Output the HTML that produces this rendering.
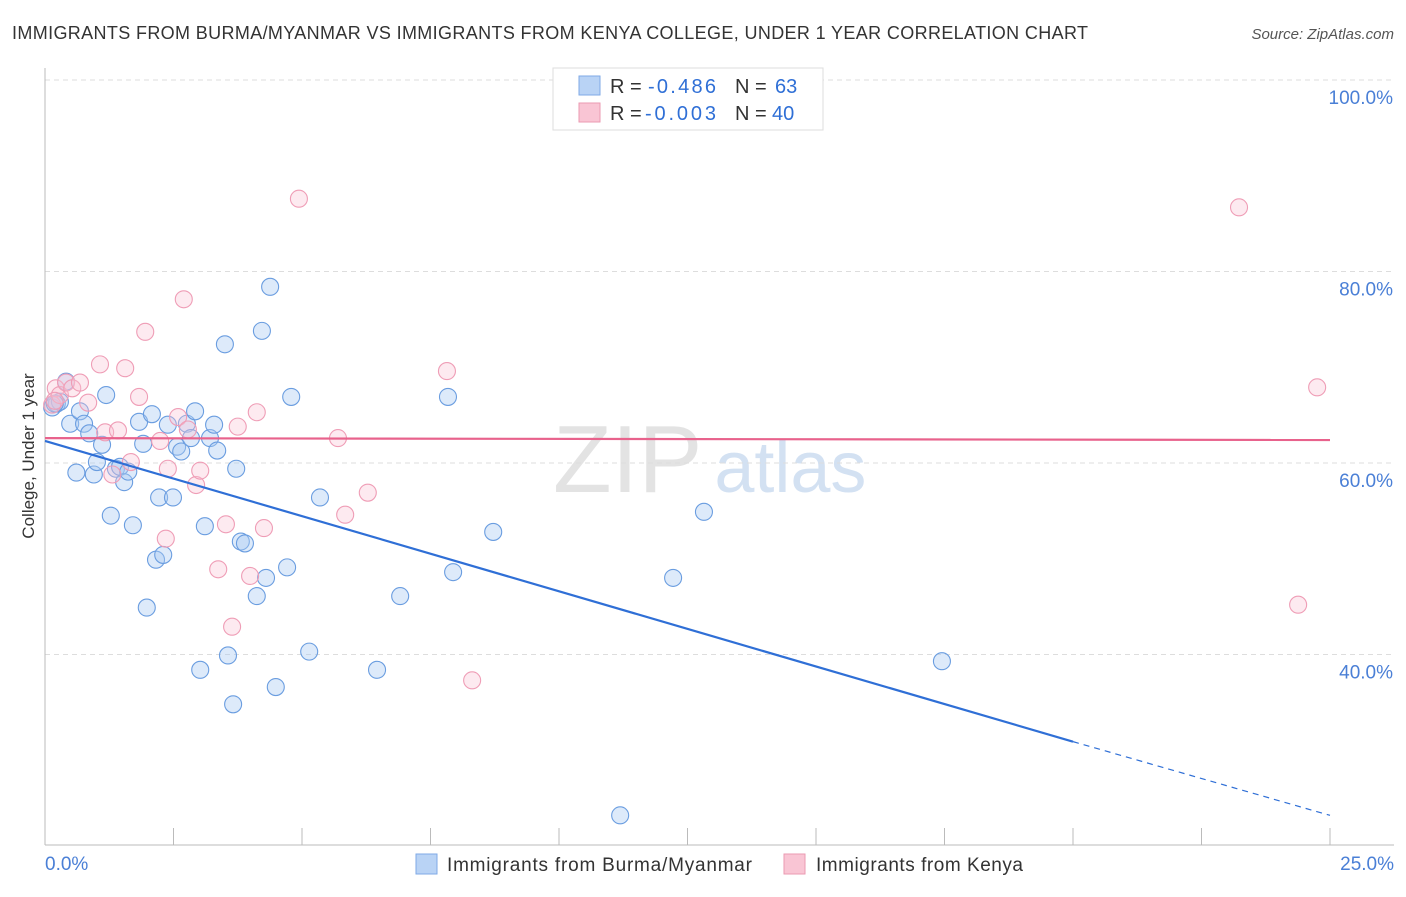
<!DOCTYPE html>
<html><head><meta charset="utf-8">
<style>
body{margin:0;background:#fff;font-family:"Liberation Sans",sans-serif;}
svg text{font-family:"Liberation Sans",sans-serif;}
</style></head>
<body>
<svg id="chart" width="1406" height="892" xmlns="http://www.w3.org/2000/svg">
<text x="12" y="39" font-size="18" fill="#333" textLength="1076" lengthAdjust="spacing">IMMIGRANTS FROM BURMA/MYANMAR VS IMMIGRANTS FROM KENYA COLLEGE, UNDER 1 YEAR CORRELATION CHART</text>
<text x="1394" y="39" font-size="15" fill="#555" text-anchor="end" font-style="italic">Source: ZipAtlas.com</text>
<text x="553" y="492" font-size="96" fill="#ddd" font-family="Liberation Serif" opacity="0.8">ZIP<tspan fill="#c9daf0" font-family="Liberation Sans" font-size="72" dx="12">atlas</tspan></text>
<g id="grid"></g>
<line x1="45" y1="68" x2="45" y2="845" stroke="#bbb"/>
<line x1="45" y1="845" x2="1394" y2="845" stroke="#bbb"/>
<g id="xticks"></g>
<text transform="translate(34,456) rotate(-90)" font-size="17" fill="#333" text-anchor="middle">College, Under 1 year</text>
<text x="45" y="870" font-size="19" fill="#4a7fd6">0.0%</text>
<text x="1394" y="870" font-size="19" fill="#4a7fd6" text-anchor="end">25.0%</text>
<g id="pts"></g>
<g id="lines"></g>
<g>
<rect x="553" y="68" width="270" height="62" fill="#fff" stroke="#ddd"/>
<rect x="579" y="76" width="21" height="19" fill="#b9d3f5" stroke="#7faae6"/>
<rect x="579" y="103" width="21" height="19" fill="#f9c5d4" stroke="#eb9ab2"/>
<text x="610" y="93" font-size="20" fill="#333">R = <tspan fill="#2f6fd6" x="648" textLength="68">-0.486</tspan><tspan x="735">N = </tspan><tspan fill="#2f6fd6" x="775">63</tspan></text>
<text x="610" y="120" font-size="20" fill="#333">R = <tspan fill="#2f6fd6" x="645" textLength="71">-0.003</tspan><tspan x="735">N = </tspan><tspan fill="#2f6fd6" x="772">40</tspan></text>
</g>
<g>
<rect x="416" y="854" width="21" height="20" fill="#b9d3f5" stroke="#7faae6"/>
<text x="447" y="871" font-size="19" fill="#333" textLength="305" lengthAdjust="spacing">Immigrants from Burma/Myanmar</text>
<rect x="784" y="854" width="21" height="20" fill="#f9c5d4" stroke="#eb9ab2"/>
<text x="816" y="871" font-size="19" fill="#333" textLength="207" lengthAdjust="spacing">Immigrants from Kenya</text>
</g>
</svg>
<script>
const yTicks=[100,80,60,40];
const xTickVals=[0,2.5,5,7.5,10,12.5,15,17.5,20,22.5,25];
const blueX=[0.14,0.23,0.29,0.41,0.49,0.68,0.76,0.61,0.86,0.95,1.01,1.11,1.19,1.28,1.38,1.46,1.54,1.62,1.71,1.83,1.91,1.98,2.08,2.16,2.22,2.30,2.39,2.49,2.57,2.65,2.76,2.84,2.92,3.02,3.11,3.21,3.29,3.35,3.50,3.56,3.66,3.72,3.81,3.89,4.12,4.22,4.30,4.38,4.49,4.71,4.79,5.14,5.35,6.46,6.91,7.84,7.94,8.72,11.19,12.22,12.82,17.45,0.19];
const blueY=[65.8,66.2,66.4,68.5,64.1,65.4,64.1,59.0,63.1,58.8,60.1,61.9,67.1,54.5,59.4,59.6,58.0,59.1,53.5,64.3,62.0,44.9,65.1,49.9,56.4,50.4,64.0,56.4,61.7,61.2,64.1,62.6,65.4,38.4,53.4,62.6,64.0,61.3,72.4,39.9,34.8,59.4,51.8,51.6,46.1,73.8,48.0,78.4,36.6,49.1,66.9,40.3,56.4,38.4,46.1,66.9,48.6,52.8,23.2,48.0,54.9,39.3,66.2];
const pinkX=[0.14,0.21,0.29,0.41,0.53,0.68,0.84,1.07,1.17,1.31,1.42,1.56,1.67,1.83,1.95,2.24,2.35,2.39,2.59,2.70,2.78,2.94,3.02,3.37,3.52,3.64,3.75,3.99,4.12,4.26,4.94,5.70,5.84,6.28,7.82,8.31,23.23,24.38,24.75,0.19];
const pinkY=[66.1,67.8,67.1,68.4,67.8,68.4,66.3,70.3,63.2,58.8,63.4,69.9,60.1,66.9,73.7,62.3,52.1,59.4,64.8,77.1,63.5,57.7,59.2,48.9,53.6,42.9,63.8,48.2,65.3,53.2,87.6,62.6,54.6,56.9,69.6,37.3,86.7,45.2,67.9,66.5];
const blueTrend=[[0,62.3],[20,30.9],[25,23.2]];
const pinkTrend=[[0,62.6],[25,62.4]];
const NS='http://www.w3.org/2000/svg';
const X=v=>45+v*(1330-45)/25;
const Y=v=>80+(100-v)*9.575;
function mk(tag,attrs,parent){const e=document.createElementNS(NS,tag);for(const k in attrs)e.setAttribute(k,attrs[k]);parent.appendChild(e);return e;}
const grid=document.getElementById('grid');
yTicks.forEach(t=>{
 const l=mk('line',{x1:45,x2:1394,y1:Y(t),y2:Y(t),stroke:'#ddd','stroke-dasharray':'5,4'},grid);
 
 
 const tx=mk('text',{x:1393,y:Y(t)+24,'font-size':19,fill:'#4a7fd6','text-anchor':'end'},grid);
 tx.textContent=t.toFixed(1)+'%';
 
 
});
const xt=document.getElementById('xticks');
xTickVals.forEach(t=>{
 const l=mk('line',{x1:X(t),x2:X(t),y1:828,y2:845,stroke:'#bbb'},xt);
 
 
});
const pts=document.getElementById('pts');
blueX.forEach((x,i)=>{
 const c=mk('circle',{cx:X(x),cy:Y(blueY[i]),r:8.5,fill:'rgba(170,202,242,0.4)',stroke:'#6a9de0','stroke-width':1.1},pts);
 
 
});
pinkX.forEach((x,i)=>{
 const c=mk('circle',{cx:X(x),cy:Y(pinkY[i]),r:8.5,fill:'rgba(248,196,212,0.35)',stroke:'#ef9db6','stroke-width':1.1},pts);
 
 
});
const ln=document.getElementById('lines');
let l1=mk('line',{x1:X(blueTrend[0][0]),y1:Y(blueTrend[0][1]),x2:X(blueTrend[1][0]),y2:Y(blueTrend[1][1]),stroke:'#2f6fd6','stroke-width':2.2},ln);


let l2=mk('line',{x1:X(blueTrend[1][0]),y1:Y(blueTrend[1][1]),x2:X(blueTrend[2][0]),y2:Y(blueTrend[2][1]),stroke:'#2f6fd6','stroke-width':1.2,'stroke-dasharray':'6,5'},ln);


let l3=mk('line',{x1:X(pinkTrend[0][0]),y1:Y(pinkTrend[0][1]),x2:X(pinkTrend[1][0]),y2:Y(pinkTrend[1][1]),stroke:'#e8628c','stroke-width':2.2},ln);


</script>
</body></html>
